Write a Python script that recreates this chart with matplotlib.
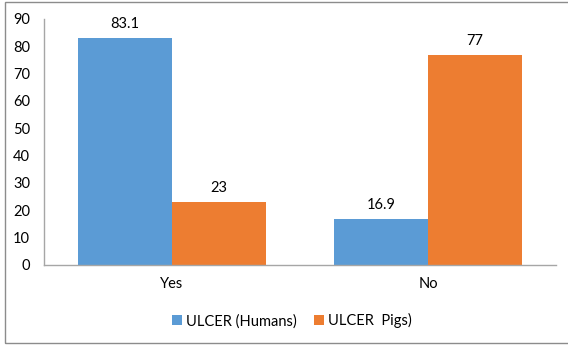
import matplotlib
matplotlib.use("Agg")
import matplotlib.pyplot as plt
import numpy as np
from matplotlib.patches import Rectangle

plt.rcParams['font.family'] = ['Lato', 'DejaVu Sans']

categories = ["Yes", "No"]
humans = [83.1, 16.9]
pigs = [23, 77]
series_names = ["ULCER (Humans)", "ULCER  Pigs)"]
yticks = [0, 10, 20, 30, 40, 50, 60, 70, 80, 90]

blue = "#5B9BD5"
orange = "#ED7D31"

fig = plt.figure(figsize=(5.68, 3.45), dpi=100)
ax = fig.add_axes([0.0775, 0.232, 0.9015, 0.713])

x = np.arange(len(categories))
w = 0.367
b1 = ax.bar(x - w / 2, humans, w, color=blue, label=series_names[0])
b2 = ax.bar(x + w / 2, pigs, w, color=orange, label=series_names[1])

for bars, vals in ((b1, humans), (b2, pigs)):
    for rect, v in zip(bars, vals):
        ax.annotate(f"{v:g}", (rect.get_x() + rect.get_width() / 2, v),
                    xytext=(0, 5), textcoords="offset points",
                    ha="center", va="bottom", fontsize=10.5)

ax.set_xlim(-0.5, 1.5)
ax.set_ylim(0, 90)
ax.set_yticks(yticks)
ax.set_xticks(x)
ax.set_xticklabels(categories)
ax.tick_params(axis="both", length=0, labelsize=10.5)
ax.tick_params(axis="y", pad=10)
ax.tick_params(axis="x", pad=9)
for s in ("top", "right"):
    ax.spines[s].set_visible(False)
for s in ("left", "bottom"):
    ax.spines[s].set_color("#A6A6A6")
    ax.spines[s].set_linewidth(1.0)

fig.legend(loc="center", bbox_to_anchor=(0.514, 0.07), ncol=2, frameon=False,
           fontsize=10.5, handlelength=0.65, handleheight=0.65,
           handletextpad=0.3, columnspacing=1.2)

# outer frame of the chart area
fig.patches.append(Rectangle((5 / 568, 2 / 345), 1.0, 341 / 345,
                             transform=fig.transFigure, fill=False,
                             edgecolor="#8C8C8C", linewidth=1.0))

fig.savefig("out.png", dpi=100)
